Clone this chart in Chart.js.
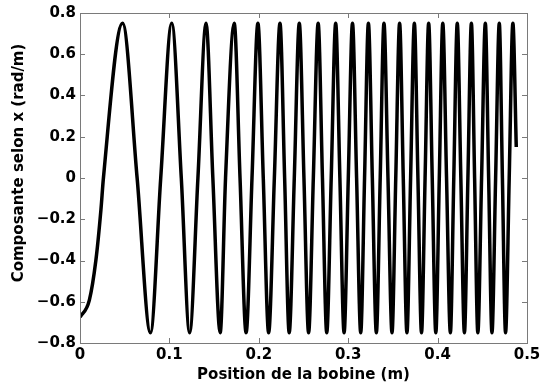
<!DOCTYPE html>
<html><head><meta charset="utf-8">
<script src="https://cdn.jsdelivr.net/npm/chart.js@4/dist/chart.umd.min.js"></script>
<style>html,body{margin:0;padding:0;background:#fff}#wrap{width:544px;height:385px}</style>
</head><body><div id="wrap"><canvas id="c" width="544" height="385"></canvas></div>
<script>
// Position de la bobine (m)
const positions = [
  0, 0.0104, 0.0178, 0.0234,
  0.0262, 0.0476, 0.0639, 0.0788,
  0.0903, 0.1026, 0.1133, 0.1226,
  0.1319, 0.141, 0.1486, 0.1568,
  0.1628, 0.1725, 0.179, 0.1858,
  0.1924, 0.199, 0.205, 0.211,
  0.2174, 0.2237, 0.2289, 0.234,
  0.2397, 0.2453, 0.2505, 0.2557,
  0.261, 0.2664, 0.2712, 0.276,
  0.281, 0.286, 0.2907, 0.2954,
  0.3001, 0.3048, 0.3094, 0.314,
  0.3183, 0.3226, 0.327, 0.3315,
  0.3358, 0.340, 0.3445, 0.349,
  0.3532, 0.3575, 0.3616, 0.3657,
  0.3698, 0.374, 0.378, 0.382,
  0.386, 0.390, 0.394, 0.398,
  0.4019, 0.4058, 0.410, 0.4143,
  0.4181, 0.422, 0.426, 0.430,
  0.4339, 0.4378, 0.4414, 0.445,
  0.4492, 0.4534, 0.4571, 0.4608,
  0.4649, 0.469, 0.4725, 0.476,
  0.4801, 0.4842, 0.488
];
// Composante selon x (rad/m)
const composanteX = [
  -0.675, -0.593, -0.398, -0.155,
  0, 0.75, 0, -0.75,
  0, 0.75, 0, -0.75,
  0, 0.75, 0, -0.75,
  0, 0.75, 0, -0.75,
  0, 0.75, 0, -0.75,
  0, 0.75, 0, -0.75,
  0, 0.75, 0, -0.75,
  0, 0.75, 0, -0.75,
  0, 0.75, 0, -0.75,
  0, 0.75, 0, -0.75,
  0, 0.75, 0, -0.75,
  0, 0.75, 0, -0.75,
  0, 0.75, 0, -0.75,
  0, 0.75, 0, -0.75,
  0, 0.75, 0, -0.75,
  0, 0.75, 0, -0.75,
  0, 0.75, 0, -0.75,
  0, 0.75, 0, -0.75,
  0, 0.75, 0, -0.75,
  0, 0.75, 0, -0.75,
  0, 0.75, 0.15
];
const xTickValues = [0, 0.1, 0.2, 0.3, 0.4, 0.5];
const xTickLabels = ['0', '0.1', '0.2', '0.3', '0.4', '0.5'];
const yTickValues = [-0.8, -0.6, -0.4, -0.2, 0, 0.2, 0.4, 0.6, 0.8];
const yTickLabels = ['\u22120.8', '\u22120.6', '\u22120.4', '\u22120.2', '0', '0.2', '0.4', '0.6', '0.8'];
const xTitle = 'Position de la bobine (m)';
const yTitle = 'Composante selon x (rad/m)';

const FONT = 'DejaVu Sans';
const FSIZE = 15;
const pts = positions.map((x, i) => ({x: x, y: composanteX[i]}));

const frame = {
  id: 'frame',
  afterDatasetsDraw(chart) {
    const {ctx, chartArea: a, scales: {x, y}} = chart;
    ctx.save();
    ctx.strokeStyle = '#7a7a7a';
    ctx.lineWidth = 1;
    ctx.beginPath();
    const L = 5;
    xTickValues.forEach(v => {
      const px = Math.round(x.getPixelForValue(v)) + 0.5;
      ctx.moveTo(px, a.bottom); ctx.lineTo(px, a.bottom - L);
      ctx.moveTo(px, a.top); ctx.lineTo(px, a.top + L);
    });
    yTickValues.forEach(v => {
      const py = Math.round(y.getPixelForValue(v)) + 0.5;
      ctx.moveTo(a.left, py); ctx.lineTo(a.left + L, py);
      ctx.moveTo(a.right, py); ctx.lineTo(a.right - L, py);
    });
    ctx.stroke();
    ctx.strokeRect(Math.round(a.left) + 0.5, Math.round(a.top) + 0.5,
                   Math.round(a.right - a.left), Math.round(a.bottom - a.top));
    ctx.restore();
  },
  afterDraw(chart) {
    const ctx = chart.ctx;
    ctx.save();
    ctx.translate(19, 163);
    ctx.rotate(-Math.PI / 2);
    ctx.font = 'bold ' + FSIZE + 'px "' + FONT + '"';
    ctx.fillStyle = '#000';
    ctx.textAlign = 'center';
    ctx.textBaseline = 'middle';
    ctx.fillText(yTitle, 0, 0);
    ctx.restore();
  }
};

new Chart(document.getElementById('c'), {
  type: 'line',
  data: {
    datasets: [{
      data: pts,
      borderColor: '#000',
      borderWidth: 3.5,
      pointRadius: 0,
      fill: false,
      cubicInterpolationMode: 'monotone'
    }]
  },
  options: {
    responsive: false,
    animation: false,
    devicePixelRatio: 1,
    layout: {padding: {top: 13, right: 17, left: 0, bottom: 0}},
    plugins: {legend: {display: false}, tooltip: {enabled: false}},
    scales: {
      x: {
        type: 'linear', min: 0, max: 0.5,
        afterBuildTicks: s => { s.ticks = xTickValues.map(v => ({value: v})); },
        afterFit: s => { s.height = 42; },
        grid: {display: false, drawTicks: false},
        border: {display: false},
        ticks: {
          callback: (v, i) => xTickLabels[i],
          color: '#000', padding: 3, maxRotation: 0, autoSkip: false,
          font: {family: FONT, size: FSIZE, weight: 'bold'}
        },
        title: {
          display: true, text: xTitle, color: '#000',
          padding: {top: 0, bottom: 1},
          font: {family: FONT, size: FSIZE, weight: 'bold'}
        }
      },
      y: {
        type: 'linear', min: -0.8, max: 0.8,
        afterBuildTicks: s => { s.ticks = yTickValues.map(v => ({value: v})); },
        afterFit: s => { s.width = 80; },
        grid: {display: false, drawTicks: false},
        border: {display: false},
        ticks: {
          callback: (v, i) => yTickLabels[i],
          color: '#000', padding: 4, autoSkip: false,
          font: {family: FONT, size: FSIZE, weight: 'bold'}
        },
        title: {display: false}
      }
    }
  },
  plugins: [frame]
});
</script>
</body></html>
